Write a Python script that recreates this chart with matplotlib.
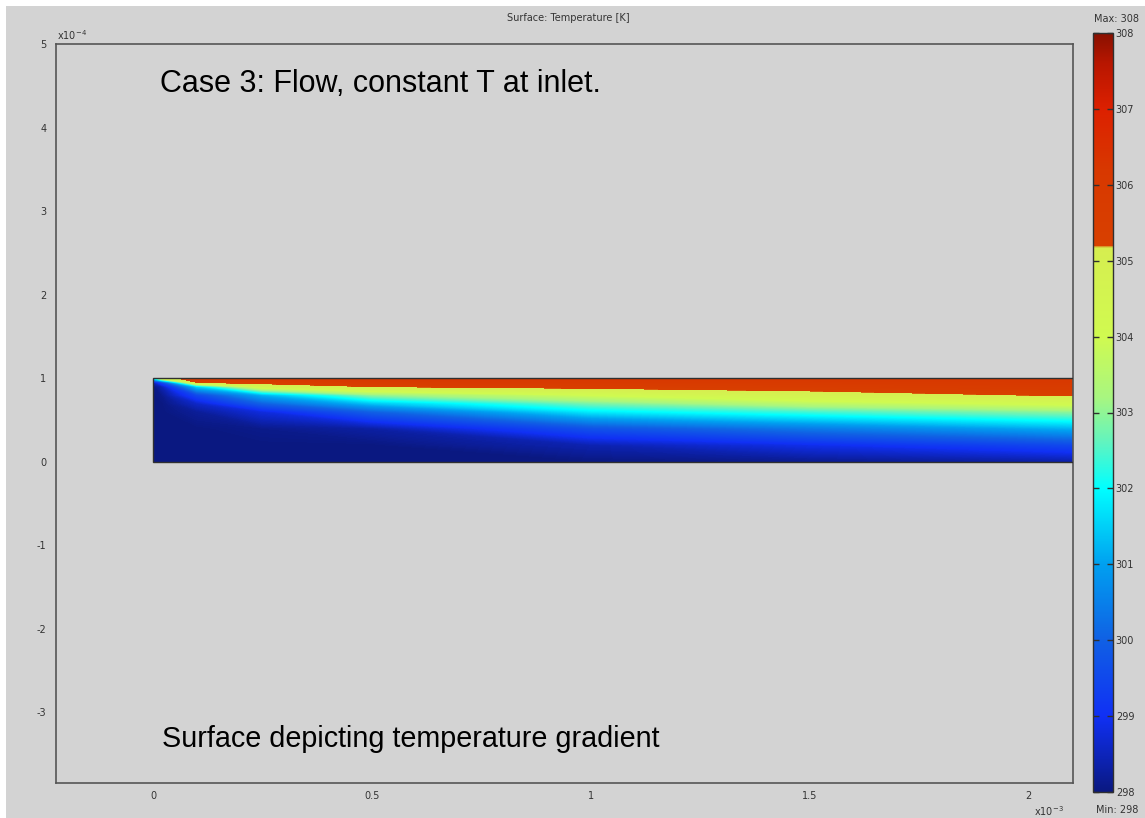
import numpy as np
import matplotlib
matplotlib.use("Agg")
import matplotlib.pyplot as plt
from matplotlib.colors import LinearSegmentedColormap, Normalize
from matplotlib.patches import Rectangle
from matplotlib.ticker import FuncFormatter
import matplotlib.cm as cm

# positions along the channel [m] where the temperature profile was read
x_stations = [0.0, 0.02e-3, 0.1e-3, 0.25e-3, 0.5e-3, 1.0e-3, 1.5e-3, 2.11e-3]
# height fractions of the channel (0 = bottom, 1 = top wall)
y_levels = [0.0, 0.2, 0.4, 0.6, 0.7, 0.8, 0.9, 0.95, 1.0]
channel_h = 1e-4

# temperature [K] per station, bottom -> top
T_x0 = [298.0, 298.0, 298.0, 298.0, 298.0, 298.0, 298.0, 298.5, 302.0]
T_x002 = [298.0, 298.0, 298.0, 298.0, 298.0, 298.1, 298.4, 299.5, 304.5]
T_x01 = [298.0, 298.0, 298.0, 298.2, 298.6, 299.5, 301.5, 305.2, 306.0]
T_x025 = [298.0, 298.0, 298.1, 298.8, 300.0, 301.2, 304.5, 305.5, 306.1]
T_x05 = [298.0, 298.0, 298.3, 300.0, 301.4, 303.0, 305.2, 305.8, 306.2]
T_x10 = [298.0, 298.4, 299.7, 301.8, 302.8, 304.0, 305.5, 305.9, 306.2]
T_x15 = [298.1, 298.9, 300.4, 302.4, 303.6, 304.8, 305.6, 305.9, 306.2]
T_x21 = [298.3, 299.5, 301.2, 303.0, 304.2, 305.3, 305.8, 306.0, 306.2]

T_min, T_max = 298, 308
cbar_ticks = [298, 299, 300, 301, 302, 303, 304, 305, 306, 307, 308]
x_ticks = [0, 0.5e-3, 1e-3, 1.5e-3, 2e-3]
y_ticks = [-3e-4, -2e-4, -1e-4, 0, 1e-4, 2e-4, 3e-4, 4e-4, 5e-4]

# COMSOL-like colour table, jump from yellow-green to red near 305.2 K
stops = [(298.0, "#0a1880"), (298.4, "#0c22b0"), (299.0, "#1030f4"), (300.0, "#1060e4"),
         (301.0, "#00a0f0"), (302.0, "#00ffff"), (302.6, "#60f4c0"),
         (303.2, "#a8f680"), (304.0, "#d0fa50"), (305.17, "#d6ee50"),
         (305.2, "#d84000"), (306.2, "#d83800"), (307.0, "#dc2000"),
         (307.6, "#b81600"), (308.0, "#881000")]
cmap = LinearSegmentedColormap.from_list(
    "comsol", [((v - T_min) / (T_max - T_min), c) for v, c in stops], N=1024)
norm = Normalize(T_min, T_max)

bg = "#d3d3d3"
txt = "#333333"
W, H = 1145, 818
fig = plt.figure(figsize=(W / 100, H / 100), dpi=100, facecolor="white")
fig.patches.append(Rectangle((6 / W, 0), 1, (H - 6) / H, transform=fig.transFigure,
                             facecolor=bg, edgecolor="none", zorder=-10))

ax = fig.add_axes([56 / W, (H - 783) / H, (1073 - 56) / W, (783 - 44) / H])
ax.set_facecolor(bg)

T_grid = np.array([T_x0, T_x002, T_x01, T_x025, T_x05, T_x10, T_x15, T_x21]).T
X, Y = np.meshgrid(x_stations, np.array(y_levels) * channel_h)
ax.contourf(X, Y, T_grid, levels=np.linspace(T_min, T_max, 401), cmap=cmap, norm=norm,
            antialiased=False)
ax.add_patch(Rectangle((0, 0), x_stations[-1], channel_h, facecolor="none",
                       edgecolor="#303030", lw=1.0, zorder=3))

ax.set_xlim(-0.222e-3, 2.103e-3)
ax.set_ylim(-3.845e-4, 5e-4)
ax.set_xticks(x_ticks)
ax.set_yticks(y_ticks)
ax.xaxis.set_major_formatter(FuncFormatter(lambda v, p: "%g" % round(v / 1e-3, 3)))
ax.yaxis.set_major_formatter(FuncFormatter(lambda v, p: "%g" % round(v / 1e-4, 3)))
ax.tick_params(length=0, labelsize=7, labelcolor=txt)
ax.tick_params(axis="x", pad=6)
ax.tick_params(axis="y", pad=7)
for s in ax.spines.values():
    s.set_color("#555555")
    s.set_linewidth(1.2)

fig.text(57 / W, (H - 40) / H, r"x10$^{-4}$", fontsize=7, color=txt)
fig.text(1034 / W, (H - 816) / H, r"x10$^{-3}$", fontsize=7, color=txt)
fig.text(568 / W, (H - 18) / H, "Surface: Temperature [K]", fontsize=7,
         color=txt, ha="center", va="center")

ax.text(160 / W, (H - 84) / H, "Case 3: Flow, constant T at inlet.", transform=fig.transFigure,
        fontsize=22, family="Liberation Sans", va="center", ha="left")
ax.text(162 / W, (H - 739) / H, "Surface depicting temperature gradient",
        transform=fig.transFigure, fontsize=20.7, family="Liberation Sans",
        va="center", ha="left")

cax = fig.add_axes([1093 / W, (H - 792) / H, 20 / W, (792 - 33) / H])
cb = fig.colorbar(cm.ScalarMappable(norm=norm, cmap=cmap), cax=cax, ticks=cbar_ticks)
cb.outline.set_edgecolor("#303030")
cb.outline.set_linewidth(1.0)
cax.tick_params(direction="in", left=True, right=True, length=4, width=1,
                color="#303030", labelsize=7, labelcolor=txt, pad=2)
fig.text(1117 / W, (H - 19) / H, "Max: 308", fontsize=7, color=txt, ha="center", va="center")
fig.text(1117 / W, (H - 810) / H, "Min: 298", fontsize=7, color=txt, ha="center", va="center")

fig.savefig("out.png", dpi=100, facecolor=fig.get_facecolor())
